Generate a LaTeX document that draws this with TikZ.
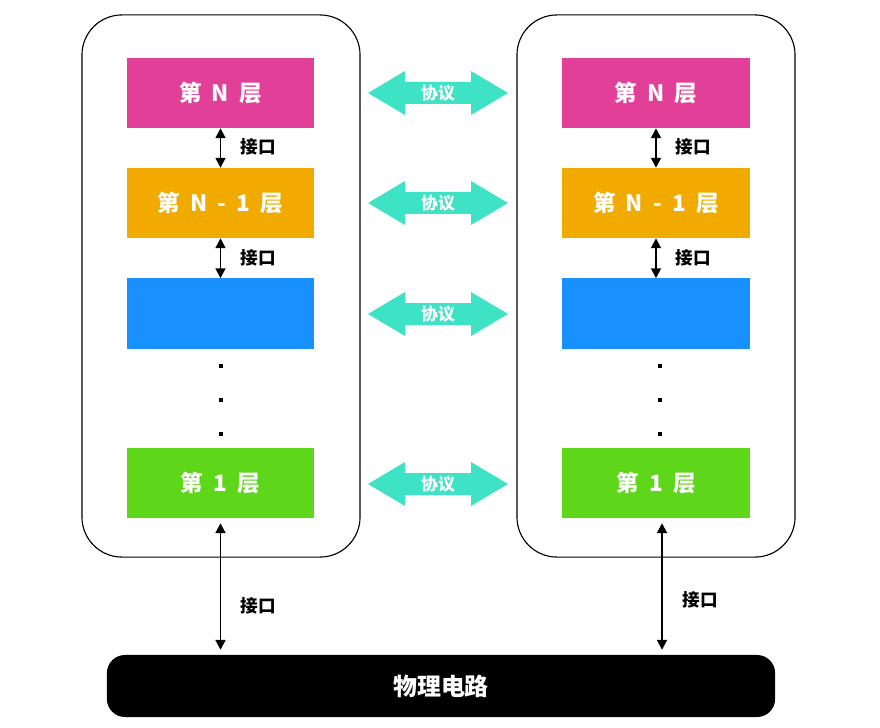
\documentclass[tikz,border=0pt]{standalone}
\usepackage{fontspec}
\newfontfamily\cjk{Noto Sans CJK SC}[WordSpace=2]
\usetikzlibrary{arrows.meta,positioning}

\definecolor{layerN}{RGB}{226,64,152}
\definecolor{layerM}{RGB}{241,171,0}
\definecolor{layerB}{RGB}{24,144,255}
\definecolor{layerO}{RGB}{94,214,26}
\definecolor{protocol}{RGB}{62,226,196}

\begin{document}
\begin{tikzpicture}[
    x=0.025cm, y=-0.025cm,
    every node/.style={inner sep=0pt},
    host/.style={draw,line width=0.8pt,rounded corners=1cm,minimum width=6.95cm,minimum height=13.55cm},
    layer/.style={minimum width=4.675cm,minimum height=1.75cm,text=white,font=\cjk\bfseries\fontsize{16}{18}\selectfont},
    iface/.style={line width=1.4pt,{Triangle[length=7pt,width=7pt]}-{Triangle[length=7pt,width=7pt]}},
    ifacelabel/.style={font=\cjk\bfseries\fontsize{12.5}{14}\selectfont},
    dotmark/.style={rectangle,fill=black,minimum size=0.12cm},
    protoarrow/.style={fill=protocol},
    prototext/.style={text=white,font=\cjk\bfseries\fontsize{12}{14}\selectfont},
    bar/.style={fill=black,rounded corners=0.45cm,minimum width=16.7cm,minimum height=1.55cm,text=white,font=\cjk\bfseries\fontsize{17}{20}\selectfont}
]
    \useasboundingbox (0,0) rectangle (880,728);
    \node[host] (hostL) at (221,286) {};
    \node[host] (hostR) at (656,286) {};

    \node[layer,fill=layerN] (nL) at (220.5,93) {第 N 层};
    \node[layer,fill=layerM] (mL) at (220.5,203) {第 N - 1 层};
    \node[layer,fill=layerB] (bL) at (220.5,313.5) {};
    \node[layer,fill=layerO] (oL) at (220.5,483) {第 1 层};
    \node[layer,fill=layerN] (nR) at (656,93) {第 N 层};
    \node[layer,fill=layerM] (mR) at (656,203) {第 N - 1 层};
    \node[layer,fill=layerB] (bR) at (656,313.5) {};
    \node[layer,fill=layerO] (oR) at (656,483) {第 1 层};

    \draw[iface] (nL) -- (mL);
    \draw[iface] (mL) -- (bL);
    \draw[iface] (nR) -- (mR);
    \draw[iface] (mR) -- (bR);
    \node[ifacelabel] (iNL) at (258,147) {接口};
    \node[ifacelabel] (iML) at (258,258) {接口};
    \node[ifacelabel] (iNR) at (693,147) {接口};
    \node[ifacelabel] (iMR) at (693,258) {接口};

    \foreach \y in {366,400,434} {
        \node[dotmark] (dL\y) at (221,\y) {};
        \node[dotmark] (dR\y) at (660,\y) {};
    }

    % protocol arrows between peer layers
    \foreach \y/\n in {93/N,203/M,314/B,484/O} {
        \fill[protoarrow] (368,\y) -- (405,\y-22) -- (405,\y-11) -- (471,\y-11) -- (471,\y-22)
            -- (508,\y) -- (471,\y+22) -- (471,\y+11) -- (405,\y+11) -- (405,\y+22) -- cycle;
        \node[prototext] (proto\n) at (438,\y) {协议};
    }

    \node[bar] (phy) at (441,686) {物理电路};
    \draw[iface,shorten <=3.5pt,shorten >=3.5pt] (oL.south) -- (oL.south |- phy.north);
    \draw[iface,shorten <=3.5pt,shorten >=3.5pt] ([xshift=0.15cm]oR.south) -- ([xshift=0.15cm]oR.south |- phy.north);
    \node[ifacelabel] (iOL) at (258,606) {接口};
    \node[ifacelabel] (iOR) at (700,600) {接口};
\end{tikzpicture}
\end{document}
